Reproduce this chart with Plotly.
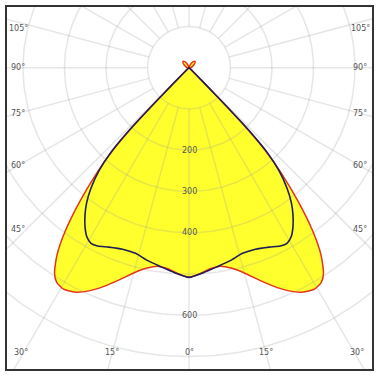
import numpy as np
import plotly.graph_objects as go

# ---- data (one half of symmetric photometric curves, cd/klm) ----
angles_deg = [0, 3, 6, 9, 12, 15, 18, 21, 24, 27, 29.5, 31.5, 33, 35, 37, 39, 41, 42.5, 43.5, 44, 44.5, 45, 50, 70, 90, 110, 125, 135, 145, 155, 165, 180]
red_cd     = [508, 500, 490, 487, 497, 515, 540, 567, 592, 610, 616, 610, 595, 555, 495, 420, 340, 270, 200, 130, 60, 25, 6, 3, 4, 9, 16, 21, 18, 9, 3, 0]
dark_deg   = [0, 4, 8, 12, 16, 20, 24, 27, 29, 31, 33, 35, 37, 39, 41, 42.5, 43.5, 44, 44.5, 45, 50, 180]
dark_cd    = [508, 498, 487, 478, 468, 468, 476, 485, 487, 478, 460, 437, 410, 375, 330, 280, 210, 130, 60, 20, 0, 0]

ring_values = [100, 200, 300, 400, 500, 600, 700]
ring_labels = [200, 300, 400, 600]
angle_ticks = [0, 15, 30, 45, 60, 75, 90, 105]

# ---- geometry helpers ----
S = 0.415  # px per cd
CX, CY = 189, 66
L, R, T, B = 7, 372, 5, 369
xr = [-(CX - L) / S, (R - CX) / S]
yr = [-(B - CY) / S, (CY - T) / S]


def full_curve(a, v):
    a = np.array(a, float)
    v = np.array(v, float)
    aa = np.concatenate([-a[::-1], a[1:]])
    vv = np.concatenate([v[::-1], v[1:]])
    t = np.radians(aa)
    return vv * np.sin(t), -vv * np.cos(t)

fig = go.Figure()

# fill
rx, ry = full_curve(angles_deg, red_cd)
fig.add_trace(go.Scatter(x=rx, y=ry, mode="lines", fill="toself", fillcolor="#ffff2e",
                         line=dict(width=0, shape="spline", smoothing=0.6), hoverinfo="skip"))

# grid circles
grid_col = "rgba(150,150,150,0.24)"
gx, gy = [], []
th = np.radians(np.linspace(0, 360, 361))
for r in ring_values:
    gx += list(r * np.sin(th)) + [None]
    gy += list(r * np.cos(th)) + [None]
# spokes every 15 deg from the 100 ring outwards
for a in range(0, 360, 15):
    t = np.radians(a)
    gx += [100 * np.sin(t), 2000 * np.sin(t), None]
    gy += [-100 * np.cos(t), -2000 * np.cos(t), None]
fig.add_trace(go.Scatter(x=gx, y=gy, mode="lines", line=dict(color=grid_col, width=1.5), hoverinfo="skip"))

# curves
fig.add_trace(go.Scatter(x=rx, y=ry, mode="lines",
                         line=dict(color="#e3341c", width=1.5, shape="spline", smoothing=0.6), hoverinfo="skip"))
dx, dy = full_curve(dark_deg, dark_cd)
fig.add_trace(go.Scatter(x=dx, y=dy, mode="lines",
                         line=dict(color="#1f1f55", width=1.6, shape="spline", smoothing=0.6), hoverinfo="skip"))

# radial labels
for v in ring_labels:
    fig.add_annotation(x=0, y=-v, text=str(v), showarrow=False,
                       font=dict(family="DejaVu Sans", size=8, color="#555"))

# angle labels at the frame
side_x = (CX - 18) / S
bottom_y = (352 - CY) / S
for a in angle_ticks:
    t = np.radians(a)
    for sgn in (-1, 1):
        if a <= 30:
            y = -bottom_y
            x = sgn * bottom_y * np.tan(t)
            if a == 30:
                x = sgn * side_x * 0.985
        else:
            x = sgn * side_x
            y = -side_x / np.tan(t)
            y += 8 / S if a == 45 else 0
            y -= 6 / S if a == 105 else 0
        if a == 0 and sgn == 1:
            continue
        fig.add_annotation(x=x, y=y, text=f"{a}°", showarrow=False,
                           font=dict(family="DejaVu Sans", size=8, color="#555"))

ax = dict(showgrid=False, zeroline=False, showticklabels=False,
          showline=True, mirror=True, linecolor="#333", linewidth=2, fixedrange=True)
fig.update_layout(
    width=380, height=375,
    margin=dict(l=L, r=380 - R, t=T, b=375 - B),
    paper_bgcolor="white", plot_bgcolor="white",
    showlegend=False,
    xaxis=dict(ax, range=xr),
    yaxis=dict(ax, range=yr),
)
fig.write_html("out.html", config={"displayModeBar": False})
